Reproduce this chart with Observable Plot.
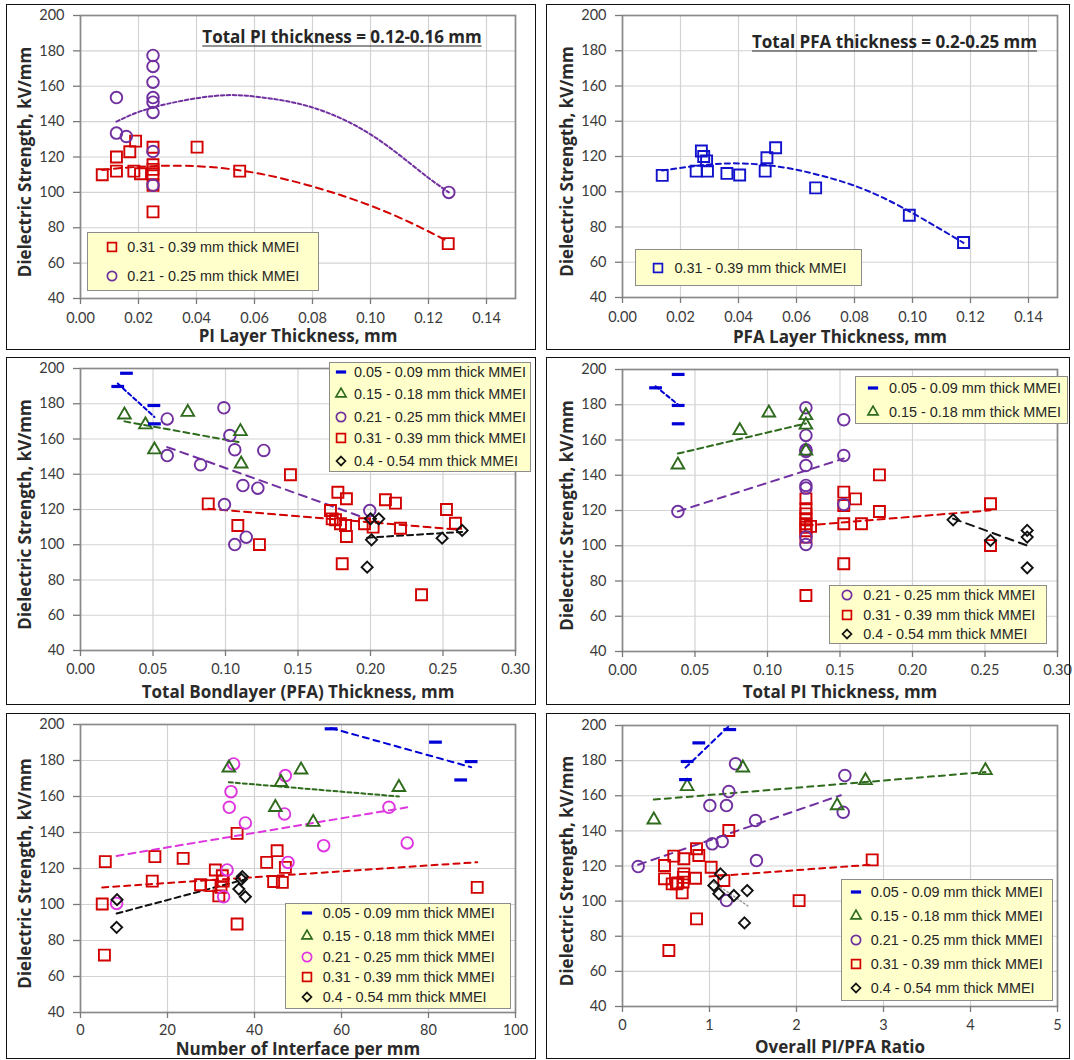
<!DOCTYPE html>
<html>
<head>
<meta charset="utf-8">
<script src="https://cdn.jsdelivr.net/npm/d3@7"></script>
<script src="https://cdn.jsdelivr.net/npm/@observablehq/plot@0.6"></script>
<style>
  body { margin: 0; background: #fff; }
  #page { position: relative; width: 1074px; height: 1060px; background: #fff; }
  .panel { position: absolute; outline: 1.5px solid #111; background: #fff; }
  .panel svg.plot { position: absolute; left: 0; top: 0; }
  .legend-box { position: absolute; background: #ffffcc; border: 1.2px solid #8c8c8c; box-sizing: border-box; }
  .legend-mark { position: absolute; overflow: visible; }
  .legend-text { position: absolute; font: 14.4px "Liberation Sans", Arial, sans-serif; color: #262626; white-space: nowrap; line-height: 18px; }
  .chart-title { position: absolute; font: bold 17px "Open Sans", Lato, sans-serif; color: #262626; text-decoration: underline; text-underline-offset: 3px; white-space: nowrap; transform: translate(-50%, -50%); }
</style>
</head>
<body>
<div id="page"></div>
<script>
// ---------- shared axis values ----------
const Y_TICKS = [40, 60, 80, 100, 120, 140, 160, 180, 200];
const X_TICKS_LAYER = [0, 0.02, 0.04, 0.06, 0.08, 0.10, 0.12, 0.14];
const X_TICKS_TOTAL = [0, 0.05, 0.10, 0.15, 0.20, 0.25, 0.30];
const X_TICKS_INTERFACE = [0, 20, 40, 60, 80, 100];
const X_TICKS_RATIO = [0, 1, 2, 3, 4, 5];
const Y_LABEL = "Dielectric Strength, kV/mm";

// ---------- group names ----------
const LABEL_05 = "0.05 - 0.09 mm thick MMEI";
const LABEL_15 = "0.15 - 0.18 mm thick MMEI";
const LABEL_21 = "0.21 - 0.25 mm thick MMEI";
const LABEL_31 = "0.31 - 0.39 mm thick MMEI";
const LABEL_40 = "0.4 - 0.54 mm thick MMEI";

// ---------- PI layer thickness (mm) vs strength (kV/mm) ----------
const piLayer31 = [[0.0075,110],[0.0124,120],[0.0124,112],[0.017,123],[0.019,129],[0.0184,112],[0.0207,110.5],
  [0.025,125.5],[0.025,115.6],[0.025,113],[0.025,110.5],[0.025,104],[0.025,89],[0.0402,125.6],[0.0549,112],[0.1268,71]];
const piLayer21 = [[0.0124,153.6],[0.0124,133.5],[0.0158,131.6],[0.025,177.4],[0.025,171.2],[0.025,162.3],
  [0.025,153.6],[0.025,151],[0.025,145.2],[0.025,123.1],[0.025,104],[0.127,100]];
const piLayerTrend31 = [[0.0075,112.7],[0.03,115.1],[0.062,110.5],[0.1,92.5],[0.127,72]];
const piLayerTrend21 = [[0.0124,140],[0.025,148],[0.046,154.5],[0.062,153.8],[0.08,148],[0.1,132.8],[0.117,112],[0.127,100]];

// ---------- PFA layer thickness (mm) ----------
const pfaLayer31 = [[0.0137,109.3],[0.0254,111.7],[0.0272,123.1],[0.028,120],[0.029,117.5],[0.0293,111.7],[0.036,110.4],
  [0.0404,109.5],[0.0492,111.7],[0.0498,119.3],[0.0528,125],[0.0666,102.2],[0.0989,86.7],[0.1176,71.2]];
const pfaLayerTrend31 = [[0.0137,112],[0.035,116],[0.054,114.2],[0.07,108.5],[0.09,96.5],[0.1176,71]];

// ---------- total bondlayer (PFA) thickness (mm) ----------
const bond05 = [[0.0317,197.3],[0.0257,189.8],[0.0506,179],[0.051,168.6]];
const bond15 = [[0.0303,173.7],[0.0448,168.1],[0.051,153.9],[0.074,175.2],[0.1103,164.3],[0.1108,145.9]];
const bond21 = [[0.0598,171.4],[0.0598,150.6],[0.0828,145.4],[0.0989,177.7],[0.0993,122.8],[0.103,162],[0.1064,153.9],
  [0.1064,100.1],[0.112,133.6],[0.1143,104.3],[0.1223,132.1],[0.1264,153.5],[0.1995,119.4]];
const bond31 = [[0.0881,123.2],[0.1085,110.9],[0.1234,100.1],[0.1448,139.7],[0.1775,129.8],[0.1834,126.1],[0.1724,119.4],
  [0.1736,114.7],[0.1759,114.2],[0.1793,111.9],[0.1828,110.9],[0.1834,104.7],[0.1805,89.2],[0.1959,111.9],[0.2018,110],
  [0.2103,125.5],[0.2172,123.6],[0.2207,109.4],[0.2352,71.6],[0.2524,120],[0.2586,112.2]];
const bond40 = [[0.1977,87.3],[0.2007,102.8],[0.2,114.7],[0.2057,114.7],[0.2494,103.7],[0.2632,108.1]];
const bondTrend05 = [[0.0257,191.5],[0.051,172.5]];
const bondTrend15 = [[0.0303,170],[0.1108,158]];
const bondTrend21 = [[0.0598,155.4],[0.1995,114.2]];
const bondTrend31 = [[0.0881,120.4],[0.2586,108.7]];
const bondTrend40 = [[0.1977,104],[0.2632,107.3]];

// ---------- total PI thickness (mm) ----------
const totalPi05 = [[0.0384,197.2],[0.0228,189.6],[0.0384,179.6],[0.0384,169.2]];
const totalPi15 = [[0.0382,145.9],[0.0809,165.4],[0.1009,175.4],[0.1265,173.9],[0.1265,168.5],[0.1265,153.8]];
const totalPi21 = [[0.0382,119.4],[0.1265,178.3],[0.1265,162.6],[0.1265,154.4],[0.1265,153.5],[0.1265,145.5],[0.1265,134.2],
  [0.1265,132.7],[0.1265,104.9],[0.1265,100.7],[0.1526,171.5],[0.1526,151.2],[0.1526,123.4]];
const totalPi31 = [[0.1265,126.6],[0.1265,121],[0.1265,118.1],[0.1265,115.3],[0.1265,112.5],[0.1265,110.5],[0.1265,108.5],
  [0.1265,104.9],[0.1265,71.8],[0.1297,111],[0.1526,130.4],[0.1526,122.8],[0.1526,112.5],[0.1526,89.8],[0.1607,126.6],
  [0.1648,112.5],[0.1772,140.2],[0.1772,119.4],[0.2538,123.8],[0.2538,100.1]];
const totalPi40 = [[0.228,114.7],[0.2538,103],[0.2791,108.7],[0.2791,104.9],[0.2791,87.5]];
const totalPiTrend05 = [[0.0228,190.5],[0.0384,180]];
const totalPiTrend15 = [[0.0382,152.3],[0.1265,169.4]];
const totalPiTrend21 = [[0.0382,119.5],[0.1526,149.5]];
const totalPiTrend31 = [[0.1265,111.5],[0.2538,120.1]];
const totalPiTrend40 = [[0.228,115.4],[0.2791,100.1]];

// ---------- number of interfaces per mm ----------
const iface05 = [[57.6,197.6],[81.6,190.2],[87.4,169.2],[89.8,179.4]];
const iface15 = [[34.1,175.9],[50.7,174.8],[46.1,167.9],[44.8,154],[53.5,145.7],[73.2,165.1]];
const iface21 = [[35.2,178.1],[34.6,162.7],[34.2,154],[37.9,145.3],[33.7,119.2],[32.9,104.3],[8.3,100.6],[47.1,171.6],
  [46.9,150.3],[47.7,123.4],[55.9,132.7],[70.9,154],[75.1,134.2]];
const iface31 = [[5.7,123.8],[5.0,100.3],[5.5,71.9],[16.5,113],[17.1,126.6],[23.6,125.6],[27.6,111],[30,110.5],[31,119.2],
  [32.6,116],[32.8,113],[32.3,109.5],[31.8,104.8],[36,139.5],[36,89.2],[42.8,123.4],[45.2,129.9],[44.4,112.8],[46.4,112.3],
  [47.1,120.6],[91.2,109.5]];
const iface40 = [[8.4,102.7],[8.3,87.3],[37.2,115.5],[37,114],[36.4,108.6],[37.9,104.3]];
const ifaceTrend05 = [[57.6,198],[89.8,176.3]];
const ifaceTrend15 = [[34.1,167.9],[73.2,160]];
const ifaceTrend21 = [[8.3,127],[75.1,154]];
const ifaceTrend31 = [[5,109.5],[91.2,123.5]];
const ifaceTrend40 = [[8.3,95],[37.9,114]];

// ---------- overall PI/PFA ratio ----------
const ratio05 = [[0.724,169.2],[0.743,179.5],[0.877,190.1],[1.233,197.7]];
const ratio15 = [[0.36,146.3],[0.743,165.3],[1.383,175.9],[2.467,154.4],[2.793,168.7],[4.172,174.4]];
const ratio21 = [[0.18,119.7],[1.004,154.4],[1.031,132.6],[1.146,133.9],[1.195,154.4],[1.222,162.4],[1.299,178.2],
  [1.195,100.3],[1.529,145.9],[1.54,123.1],[2.556,171.5],[2.537,150.6]];
const ratio31 = [[0.483,120.3],[0.483,112.7],[0.59,125.6],[0.705,124.1],[0.571,109.8],[0.636,110.4],[0.705,115.5],
  [0.697,110.8],[0.686,104.7],[0.851,129.8],[0.877,126],[0.839,113],[0.851,89.9],[1.019,119.3],[1.165,111.7],[0.533,71.9],
  [1.222,140.2],[2.03,100.3],[2.87,123.5],[0.62,109.8],[0.70,113.5]];
const ratio40 = [[1.126,115.5],[1.05,108.9],[1.107,104.2],[1.28,103.2],[1.433,106],[1.402,87.6]];
const ratioTrend05 = [[0.724,176],[1.22,199.5]];
const ratioTrend15 = [[0.36,157.8],[4.172,173.5]];
const ratioTrend21 = [[0.18,120.7],[2.51,160.3]];
const ratioTrend31 = [[1.0,114],[2.87,120.8]];
const ratioTrend40 = [[1.05,110.6],[1.44,97.3]];

// ---------- marker looks ----------
// short horizontal bar used for the thinnest group
const DASH = { draw(ctx, size) { const w = Math.sqrt(size) * 0.9; ctx.moveTo(-w, 0); ctx.lineTo(w, 0); } };
const LOOK = {
  g05:  { label: LABEL_05, color: "#0000d6", symbol: "dash" },
  g15:  { label: LABEL_15, color: "#2e6b1c", symbol: "triangle" },
  g21:  { label: LABEL_21, color: "#7030a0", symbol: "circle" },
  g21m: { label: LABEL_21, color: "#de36de", symbol: "circle" },
  g31:  { label: LABEL_31, color: "#d20000", symbol: "square" },
  g31b: { label: LABEL_31, color: "#1212cc", symbol: "square" },
  g40:  { label: LABEL_40, color: "#111111", symbol: "diamond2" }
};
const RADIUS = { dash: 4, triangle: 4.7, circle: 5.8, square: 6.2, diamond2: 5 };
const D3_SYMBOL = { dash: DASH, triangle: d3.symbolTriangle, circle: d3.symbolCircle, square: d3.symbolSquare, diamond2: d3.symbolDiamond2 };

// ---------- panels ----------
const PANELS = [
  { left: 7, top: 5, width: 528, height: 344, margin: [10, 20, 51, 73],
    xDomain: [0, 0.15], xTicks: X_TICKS_LAYER, xFormat: ".2f", xPad: 8, xLabel: "PI Layer Thickness, mm", xLabelDy: 38,
    series: [["g31", piLayer31], ["g21", piLayer21]],
    trends: [["g31", piLayerTrend31, "7,5", 2, "natural"], ["g21", piLayerTrend21, "3.5,2.5", 2, "natural"]],
    title: { text: "Total PI thickness = 0.12-0.16 mm", x: 335, y: 31 },
    legends: [{ box: [80, 227, 232, 59], mx: 104.7, tx: 120.3, rows: [["g31", 242], ["g21", 271]] }] },
  { left: 547, top: 5, width: 522, height: 344, margin: [10, 12, 52, 75],
    xDomain: [0, 0.15], xTicks: X_TICKS_LAYER, xFormat: ".2f", xPad: 8, xLabel: "PFA Layer Thickness, mm", xLabelDy: 40,
    series: [["g31b", pfaLayer31]],
    trends: [["g31b", pfaLayerTrend31, "5,4", 2, "natural"]],
    title: { text: "Total PFA thickness = 0.2-0.25 mm", x: 347.5, y: 36 },
    legends: [{ box: [88, 244, 227, 37], mx: 111, tx: 127.5, rows: [["g31b", 262.5]] }] },
  { left: 7, top: 358, width: 528, height: 346, margin: [10, 20, 54, 73],
    xDomain: [0, 0.30], xTicks: X_TICKS_TOTAL, xFormat: ".2f", xPad: 7, xLabel: "Total Bondlayer (PFA) Thickness, mm", xLabelDy: 42,
    series: [["g31", bond31], ["g21", bond21], ["g15", bond15], ["g40", bond40], ["g05", bond05]],
    trends: [["g05", bondTrend05, "4,3", 2], ["g15", bondTrend15, "6,4", 2], ["g21", bondTrend21, "8,6", 2],
             ["g31", bondTrend31, "7,5", 2], ["g40", bondTrend40, "6,4", 2]],
    legends: [{ box: [322, 4, 202, 110], mx: 334, tx: 347,
                rows: [["g05", 14.3], ["g15", 36.3], ["g21", 58.7], ["g31", 80.3], ["g40", 103]] }] },
  { left: 547, top: 358, width: 522, height: 346, margin: [11, 12, 53, 75],
    xDomain: [0, 0.30], xTicks: X_TICKS_TOTAL, xFormat: ".2f", xPad: 7, xLabel: "Total PI Thickness, mm", xLabelDy: 41,
    series: [["g31", totalPi31], ["g21", totalPi21], ["g15", totalPi15], ["g40", totalPi40], ["g05", totalPi05]],
    trends: [["g05", totalPiTrend05, "4,3", 2], ["g15", totalPiTrend15, "6,4", 2], ["g21", totalPiTrend21, "8,6", 2],
             ["g31", totalPiTrend31, "7,5", 2], ["g40", totalPiTrend40, "8,6", 2]],
    legends: [{ box: [308, 18, 213, 48], mx: 325.7, tx: 342, rows: [["g05", 30.3], ["g15", 53.7]] },
              { box: [282, 227, 218, 59], mx: 299.7, tx: 316.3, rows: [["g21", 237], ["g31", 257], ["g40", 276.3]] }] },
  { left: 7, top: 714, width: 528, height: 344, margin: [10, 20, 46, 73],
    xDomain: [0, 100], xTicks: X_TICKS_INTERFACE, xFormat: "d", xPad: 6, xLabel: "Number of Interface per mm", xLabelDy: 37,
    series: [["g31", iface31], ["g21m", iface21], ["g15", iface15], ["g40", iface40], ["g05", iface05]],
    trends: [["g05", ifaceTrend05, "6,5", 2], ["g15", ifaceTrend15, "4,3", 2], ["g21m", ifaceTrend21, "7,5", 2],
             ["g31", ifaceTrend31, "6,5", 2], ["g40", ifaceTrend40, "6,4", 2]],
    legends: [{ box: [278, 189, 226, 106], mx: 299.7, tx: 315.7,
                rows: [["g05", 199.3], ["g15", 222], ["g21m", 242.7], ["g31", 262.7], ["g40", 283.3]] }] },
  { left: 547, top: 714, width: 522, height: 344, margin: [11, 12, 52, 75],
    xDomain: [0, 5], xTicks: X_TICKS_RATIO, xFormat: "d", xPad: 7, xLabel: "Overall PI/PFA Ratio", xLabelDy: 41,
    series: [["g31", ratio31], ["g21", ratio21], ["g15", ratio15], ["g40", ratio40], ["g05", ratio05]],
    trends: [["g05", ratioTrend05, "5,4", 2], ["g15", ratioTrend15, "6,5", 2], ["g21", ratioTrend21, "8,6", 2],
             ["g31", ratioTrend31, "6,5", 2], ["g40", ratioTrend40, "1.5,2.5", 1.5, "linear", "#9a9a9a"]],
    legends: [{ box: [294, 165, 212, 122], mx: 309, tx: 323.7,
                rows: [["g05", 177.7], ["g15", 201.7], ["g21", 226], ["g31", 250], ["g40", 273.7]] }] }
];

const page = document.getElementById("page");
const BOLD_FONT = "'Open Sans', Lato, sans-serif";

function legendSymbol(look) {
  const r = RADIUS[look.symbol] * 0.8;
  const path = d3.symbol(D3_SYMBOL[look.symbol], Math.PI * r * r)();
  const sw = look.symbol === "dash" ? 3.2 : 1.7;
  return `<svg class="legend-mark" width="20" height="20" viewBox="-10 -10 20 20"><path d="${path}" fill="none" stroke="${look.color}" stroke-width="${sw}"/></svg>`;
}

for (const p of PANELS) {
  const div = document.createElement("div");
  div.className = "panel";
  Object.assign(div.style, { left: p.left + "px", top: p.top + "px", width: p.width + "px", height: p.height + "px" });
  page.appendChild(div);

  const [mt, mr, mb, ml] = p.margin;
  const marks = [
    Plot.gridX(p.xTicks, { stroke: "#d3d3d3", strokeOpacity: 1, strokeWidth: 1.2 }),
    Plot.gridY(Y_TICKS, { stroke: "#d3d3d3", strokeOpacity: 1, strokeWidth: 1.2 }),
    Plot.frame({ stroke: "#8a8a8a", strokeWidth: 1.7 }),
    Plot.axisX(p.xTicks, { tickSize: 6, tickPadding: p.xPad, tickFormat: d3.format(p.xFormat), stroke: "#7a7a7a", strokeWidth: 1.3, label: null }),
    Plot.axisY(Y_TICKS, { tickSize: 7, tickPadding: 9, stroke: "#7a7a7a", strokeWidth: 1.3, label: null })
  ];
  for (const [group, pts, dash, width, curve, color] of p.trends) {
    marks.push(Plot.line(pts, {
      x: d => d[0], y: d => d[1],
      stroke: color ?? LOOK[group].color, strokeWidth: width, strokeDasharray: dash, curve: curve ?? "linear"
    }));
  }
  for (const [group, pts] of p.series) {
    const look = LOOK[group];
    marks.push(Plot.dot(pts, {
      x: d => d[0], y: d => d[1],
      symbol: look.symbol === "dash" ? DASH : look.symbol,
      r: RADIUS[look.symbol], fill: "none", stroke: look.color,
      strokeWidth: look.symbol === "dash" ? 3.2 : 1.9
    }));
  }
  marks.push(Plot.text([p.xLabel], {
    text: d => d, frameAnchor: "bottom", lineAnchor: "middle", textAnchor: "middle", dy: p.xLabelDy,
    fontFamily: BOLD_FONT, fontWeight: "bold", fontSize: 17, fill: "#2a2a2a"
  }));
  marks.push(Plot.text([Y_LABEL], {
    text: d => d, frameAnchor: "left", lineAnchor: "middle", textAnchor: "middle", rotate: -90, dx: -55, dy: 5,
    fontFamily: BOLD_FONT, fontWeight: "bold", fontSize: 17, fill: "#2a2a2a"
  }));

  const svg = Plot.plot({
    width: p.width, height: p.height,
    marginTop: mt, marginRight: mr, marginBottom: mb, marginLeft: ml,
    x: { domain: p.xDomain, axis: null },
    y: { domain: [40, 200], axis: null },
    style: { fontFamily: "Lato, 'Open Sans', sans-serif", fontSize: "14.5px", color: "#3a3a3a", background: "#fff", overflow: "visible" },
    marks
  });
  div.appendChild(svg);

  if (p.title) {
    const t = document.createElement("div");
    t.className = "chart-title";
    t.textContent = p.title.text;
    Object.assign(t.style, { left: p.title.x + "px", top: p.title.y + "px" });
    div.appendChild(t);
  }

  for (const lg of p.legends) {
    const [bl, bt, bw, bh] = lg.box;
    const box = document.createElement("div");
    box.className = "legend-box";
    Object.assign(box.style, { left: bl + "px", top: bt + "px", width: bw + "px", height: bh + "px" });
    div.appendChild(box);
    for (const [group, y] of lg.rows) {
      const look = LOOK[group];
      const holder = document.createElement("div");
      holder.innerHTML = legendSymbol(look);
      const m = holder.firstChild;
      Object.assign(m.style, { left: (lg.mx - 10) + "px", top: (y - 10) + "px" });
      div.appendChild(m);
      const tx = document.createElement("div");
      tx.className = "legend-text";
      tx.textContent = look.label;
      Object.assign(tx.style, { left: lg.tx + "px", top: (y - 9) + "px" });
      div.appendChild(tx);
    }
  }
}
</script>
</body>
</html>
